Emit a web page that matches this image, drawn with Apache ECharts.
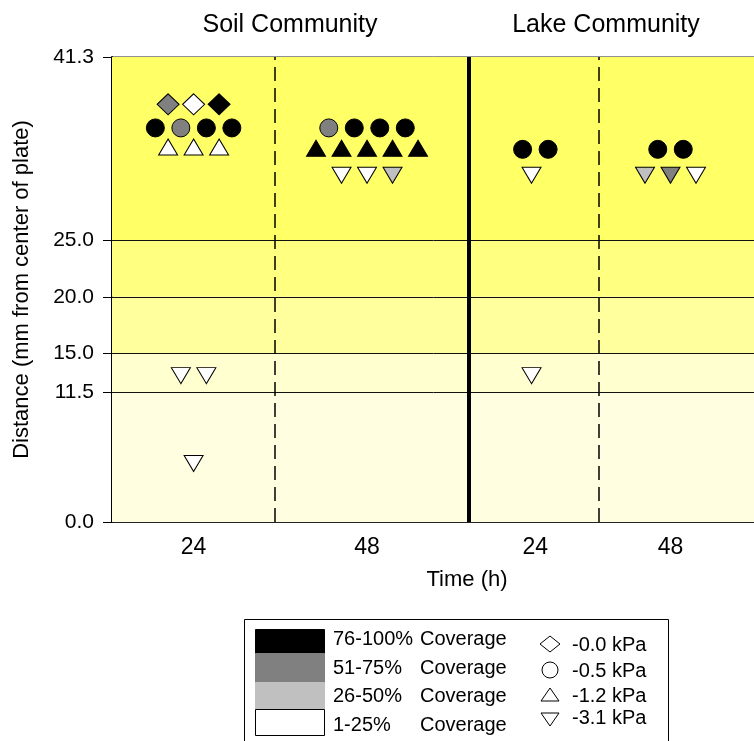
<!DOCTYPE html>
<html>
<head>
<meta charset="utf-8">
<script src="https://cdn.jsdelivr.net/npm/echarts@6/dist/echarts.min.js"></script>
<style>
  html, body { margin: 0; padding: 0; background: #fff; }
  #chart { width: 754px; height: 741px; }
</style>
</head>
<body>
<div id="chart"></div>
<script>
  // panels along x (slot units, one slot = one marker width)
  const groupNames = ['Soil 24', 'Soil 48', 'Lake 24', 'Lake 48'];
  const groupCenters = [3.2, 10.0, 16.6, 21.9];
  const timeLabels = ['24', '48', '24', '48'];
  const dashedDividers = [6.4, 19.1];
  const communityDivider = [14.0];
  const communityTitles = ['Soil Community', 'Lake Community'];

  // y axis
  const yTicks = [0, 11.5, 15, 20, 25, 41.3];
  const bandLimits = [0, 11.5, 15, 20, 25, 41.3];
  const bandColors = ['#fffee0', '#ffffd0', '#ffff9e', '#ffff80', '#ffff66'];

  // coverage classes: 0 = 76-100%, 1 = 51-75%, 2 = 26-50%, 3 = 1-25%
  const coverageLabels = ['76-100%', '51-75%', '26-50%', '1-25%'];
  const coverageColors = ['#000000', '#808080', '#c0c0c0', '#ffffff'];
  const pressureLabels = ['-0.0 kPa', '-0.5 kPa', '-1.2 kPa', '-3.1 kPa'];

  // [group, slot offset, distance mm, coverage class]
  const kPa00 = [
    [0, -1, 37.1, 1], [0, 0, 37.1, 3], [0, 1, 37.1, 0]
  ];
  const kPa05 = [
    [0, -1.5, 35.0, 0], [0, -0.5, 35.0, 1], [0, 0.5, 35.0, 0], [0, 1.5, 35.0, 0],
    [1, -1.5, 35.0, 1], [1, -0.5, 35.0, 0], [1, 0.5, 35.0, 0], [1, 1.5, 35.0, 0],
    [2, -0.5, 33.1, 0], [2, 0.5, 33.1, 0],
    [3, -0.5, 33.1, 0], [3, 0.5, 33.1, 0]
  ];
  const kPa12 = [
    [0, -1, 33.3, 3], [0, 0, 33.3, 3], [0, 1, 33.3, 3],
    [1, -2, 33.2, 0], [1, -1, 33.2, 0], [1, 0, 33.2, 0], [1, 1, 33.2, 0], [1, 2, 33.2, 0]
  ];
  const kPa31 = [
    [0, -0.5, 13.0, 3], [0, 0.5, 13.0, 3], [0, 0, 5.2, 3],
    [1, -1, 30.8, 3], [1, 0, 30.8, 3], [1, 1, 30.8, 2],
    [2, -0.15, 30.8, 3], [2, -0.15, 13.0, 3],
    [3, -1, 30.8, 2], [3, 0, 30.8, 1], [3, 1, 30.8, 3]
  ];

  const FONT = 'Liberation Sans, Arial, sans-serif';

  function toPoints(list) {
    return list.map(function (d) {
      return {
        value: [groupCenters[d[0]] + d[1], d[2]],
        itemStyle: { color: coverageColors[d[3]], borderColor: '#000', borderWidth: 1, opacity: 1 }
      };
    });
  }

  function nearestGroup(v) {
    let best = 0;
    groupCenters.forEach(function (c, i) {
      if (Math.abs(c - v) < Math.abs(groupCenters[best] - v)) best = i;
    });
    return best;
  }

  let chart = echarts.init(document.getElementById('chart'));

  let bandData = [];
  for (let i = 0; i < bandColors.length; i++) {
    bandData.push([{ yAxis: bandLimits[i], itemStyle: { color: bandColors[i], opacity: 1 } }, { yAxis: bandLimits[i + 1] }]);
  }

  let lineData = [];
  [11.5, 15, 20, 25].forEach(function (v) {
    lineData.push({ yAxis: v, lineStyle: { color: '#111', width: 1, type: 'solid' } });
  });
  dashedDividers.forEach(function (v) {
    lineData.push({ xAxis: v, lineStyle: { color: '#000', width: 1.5, type: [14, 7] } });
  });
  communityDivider.forEach(function (v) {
    lineData.push({ xAxis: v, lineStyle: { color: '#000', width: 4, type: 'solid' } });
  });

  // legend drawn by hand (box, swatches, texts, outline symbols)
  let legend = [
    { type: 'rect', shape: { x: 244.5, y: 619.5, width: 424, height: 160 }, style: { fill: '#fff', stroke: '#000', lineWidth: 1 } }
  ];
  const swatchY = [629, 653, 682, 709, 735];
  const covTextY = [639, 668, 696, 725];
  coverageLabels.forEach(function (lab, i) {
    legend.push({ type: 'rect', shape: { x: 255.5, y: swatchY[i] + 0.5, width: 69, height: swatchY[i + 1] - swatchY[i] },
      style: { fill: coverageColors[i], stroke: i === 3 ? '#000' : coverageColors[i], lineWidth: 1 } });
    legend.push({ type: 'text', x: 333, y: covTextY[i], style: { text: lab, font: '20px ' + FONT, fill: '#000', textVerticalAlign: 'middle' } });
    legend.push({ type: 'text', x: 420, y: covTextY[i], style: { text: 'Coverage', font: '20px ' + FONT, fill: '#000', textVerticalAlign: 'middle' } });
  });
  const kpaY = [645, 671, 696, 718];
  const symStyle = { fill: 'none', stroke: '#000', lineWidth: 1 };
  legend.push({ type: 'polygon', shape: { points: [[550, kpaY[0] - 9], [560, kpaY[0] - 1], [550, kpaY[0] + 7], [540, kpaY[0] - 1]] }, style: symStyle });
  legend.push({ type: 'circle', shape: { cx: 550, cy: kpaY[1] - 1, r: 8 }, style: symStyle });
  legend.push({ type: 'polygon', shape: { points: [[550, kpaY[2] - 8], [559, kpaY[2] + 5], [541, kpaY[2] + 5]] }, style: symStyle });
  legend.push({ type: 'polygon', shape: { points: [[541, kpaY[3] - 5], [559, kpaY[3] - 5], [550, kpaY[3] + 8]] }, style: symStyle });
  pressureLabels.forEach(function (lab, i) {
    legend.push({ type: 'text', x: 572, y: kpaY[i], style: { text: lab, font: '20px ' + FONT, fill: '#000', textVerticalAlign: 'middle' } });
  });
  legend.push({ type: 'text', x: 290, y: 25, style: { text: communityTitles[0], font: '25px ' + FONT, fill: '#000', textAlign: 'center', textVerticalAlign: 'middle' } });
  legend.push({ type: 'text', x: 606, y: 25, style: { text: communityTitles[1], font: '25px ' + FONT, fill: '#000', textAlign: 'center', textVerticalAlign: 'middle' } });

  let option = {
    animation: false,
    textStyle: { fontFamily: FONT },
    grid: {
      // the plot runs on past the right edge of the picture
      left: 112, top: 57, right: -68, bottom: 219,
      outerBoundsMode: 'none', containLabel: false,
      show: true, borderColor: '#222', borderWidth: 1, backgroundColor: 'transparent'
    },
    xAxis: {
      type: 'value', min: 0, max: 27.84,
      name: 'Time (h)', nameLocation: 'middle', nameGap: 47,
      nameTextStyle: { fontSize: 22, color: '#000', fontFamily: FONT },
      axisLine: { lineStyle: { color: '#000', width: 1.5 } },
      axisTick: { show: false },
      splitLine: { show: false },
      axisLabel: {
        customValues: groupCenters, fontSize: 23, color: '#000', margin: 14, fontFamily: FONT,
        formatter: function (v) { return timeLabels[nearestGroup(v)]; }
      }
    },
    yAxis: {
      type: 'value', min: 0, max: 41.3,
      name: 'Distance (mm from center of plate)', nameLocation: 'middle', nameGap: 79, nameRotate: 90,
      nameTextStyle: { fontSize: 22, color: '#000', fontFamily: FONT },
      axisLine: { show: true, lineStyle: { color: '#000', width: 2 } },
      axisTick: { show: true, customValues: yTicks, length: 9, lineStyle: { color: '#000', width: 1 } },
      splitLine: { show: false },
      axisLabel: {
        customValues: yTicks, fontSize: 21, color: '#000', margin: 18, fontFamily: FONT,
        formatter: function (v) { return v.toFixed(1); }
      }
    },
    graphic: legend,
    series: [
      {
        name: 'bands', type: 'scatter', data: [], z: 1, silent: true,
        markArea: { silent: true, data: bandData }
      },
      {
        name: 'lines', type: 'scatter', data: [], z: 2, silent: true,
        markLine: { silent: true, symbol: 'none', label: { show: false }, data: lineData }
      },
      { name: pressureLabels[0], type: 'scatter', z: 5, symbol: 'diamond', symbolSize: [22, 21], data: toPoints(kPa00) },
      { name: pressureLabels[1], type: 'scatter', z: 5, symbol: 'circle', symbolSize: 18, data: toPoints(kPa05) },
      { name: pressureLabels[2], type: 'scatter', z: 5, symbol: 'triangle', symbolSize: [19, 16], data: toPoints(kPa12) },
      { name: pressureLabels[3], type: 'scatter', z: 5, symbol: 'triangle', symbolRotate: 180, symbolSize: [19, 16], data: toPoints(kPa31) }
    ]
  };
  chart.setOption(option);
</script>
</body>
</html>
